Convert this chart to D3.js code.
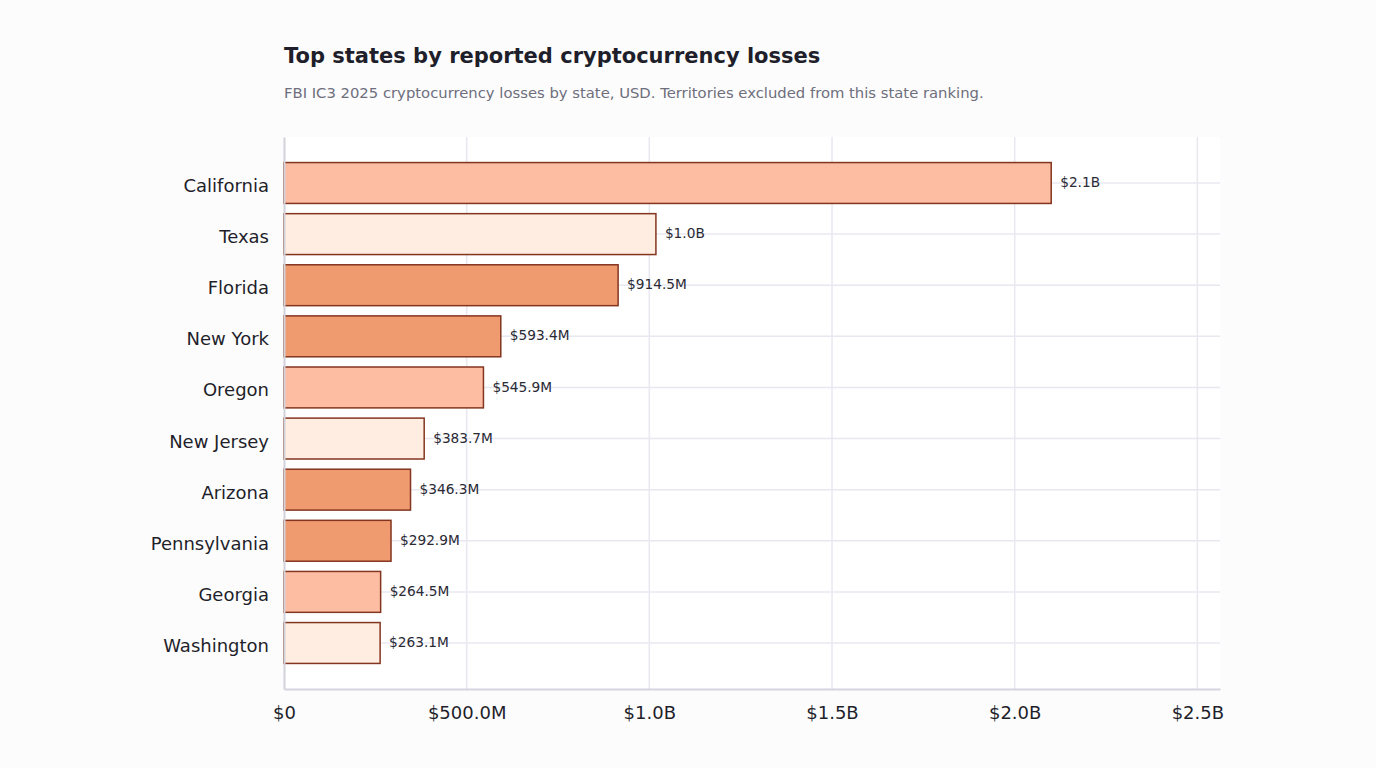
<!DOCTYPE html>
<html>
<head>
<meta charset="utf-8">
<script src="https://cdn.jsdelivr.net/npm/d3@7"></script>
<style>
  html, body { margin: 0; padding: 0; background: #fcfcfc; }
  svg { display: block; font-family: "DejaVu Sans", sans-serif; }
</style>
</head>
<body>
<div id="chart"></div>
<script>
// data
const states = ["California", "Texas", "Florida", "New York", "Oregon", "New Jersey", "Arizona", "Pennsylvania", "Georgia", "Washington"];
const losses = [2100e6, 1018e6, 914.5e6, 593.4e6, 545.9e6, 383.7e6, 346.3e6, 292.9e6, 264.5e6, 263.1e6];
const valueLabels = ["$2.1B", "$1.0B", "$914.5M", "$593.4M", "$545.9M", "$383.7M", "$346.3M", "$292.9M", "$264.5M", "$263.1M"];
const tickValues = [0, 500e6, 1000e6, 1500e6, 2000e6, 2500e6];
const tickLabels = ["$0", "$500.0M", "$1.0B", "$1.5B", "$2.0B", "$2.5B"];

const palette = ["#fdbda2", "#feede0", "#f09a70", "#f09a70"];

const width = 1376, height = 768;
const margin = { top: 137, right: 156, bottom: 79, left: 284 };

const data = states.map((s, i) => ({ state: s, value: losses[i], label: valueLabels[i] }));

const svg = d3.select("#chart").append("svg")
    .attr("width", width)
    .attr("height", height)
    .attr("viewBox", [0, 0, width, height]);

svg.append("rect").attr("width", width).attr("height", height).attr("fill", "#fcfcfc");

// titulo y subtitulo
svg.append("text")
    .attr("x", margin.left).attr("y", 63)
    .attr("font-size", 21).attr("font-weight", "bold").attr("fill", "#1f1f2b")
    .text("Top states by reported cryptocurrency losses");
svg.append("text")
    .attr("x", margin.left).attr("y", 98)
    .attr("font-size", 14.8).attr("fill", "#6e6e7c")
    .text("FBI IC3 2025 cryptocurrency losses by state, USD. Territories excluded from this state ranking.");

const x = d3.scaleLinear()
    .domain([0, d3.max(losses) * 1.22])
    .range([margin.left, width - margin.right]);

const y = d3.scaleBand()
    .domain(states)
    .range([margin.top, height - margin.bottom])
    .paddingInner(0.2)
    .paddingOuter(0.5);

// fondo blanco del area de trazado
svg.append("rect")
    .attr("x", margin.left).attr("y", margin.top)
    .attr("width", width - margin.right - margin.left)
    .attr("height", height - margin.bottom - margin.top)
    .attr("fill", "#ffffff");

// grid vertical
svg.append("g")
    .selectAll("line")
    .data(tickValues.slice(1))
    .join("line")
      .attr("x1", d => x(d)).attr("x2", d => x(d))
      .attr("y1", margin.top).attr("y2", height - margin.bottom)
      .attr("stroke", "#e8e8f0").attr("stroke-width", 1.5);

// grid horizontal en el centro de cada barra
svg.append("g")
    .selectAll("line")
    .data(states)
    .join("line")
      .attr("x1", margin.left).attr("x2", width - margin.right)
      .attr("y1", d => y(d) + y.bandwidth() / 2).attr("y2", d => y(d) + y.bandwidth() / 2)
      .attr("stroke", "#e8e8f0").attr("stroke-width", 1.5);

// barras
svg.append("g")
    .selectAll("rect")
    .data(data)
    .join("rect")
      .attr("x", x(0))
      .attr("y", d => y(d.state))
      .attr("width", d => x(d.value) - x(0))
      .attr("height", y.bandwidth())
      .attr("fill", (d, i) => palette[i % palette.length])
      .attr("stroke", "#84351f")
      .attr("stroke-width", 1.5);

// etiquetas de valor
svg.append("g")
    .selectAll("text")
    .data(data)
    .join("text")
      .attr("x", d => x(d.value) + 9)
      .attr("y", d => y(d.state) + y.bandwidth() / 2)
      .attr("dy", "0.3em")
      .attr("font-size", 13.7)
      .attr("fill", "#2a2a35")
      .text(d => d.label);

// eje y
svg.append("g")
    .attr("transform", `translate(${margin.left},0)`)
    .call(d3.axisLeft(y).tickSize(0).tickPadding(15))
    .call(g => g.select(".domain").attr("stroke", "#d2d2da").attr("stroke-width", 2))
    .call(g => g.selectAll(".tick text").attr("dy", "0.5em"))
    .call(g => g.selectAll("text").attr("font-size", 18).attr("fill", "#1f1f2b").attr("font-family", "DejaVu Sans, sans-serif"));

// eje x
svg.append("g")
    .attr("transform", `translate(0,${height - margin.bottom})`)
    .call(d3.axisBottom(x).tickValues(tickValues).tickFormat((d, i) => tickLabels[i]).tickSize(0).tickPadding(17))
    .call(g => g.select(".domain").attr("stroke", "#d6d4e0").attr("stroke-width", 2))
    .call(g => g.selectAll("text").attr("font-size", 18).attr("fill", "#1f1f2b").attr("font-family", "DejaVu Sans, sans-serif"));
</script>
</body>
</html>
